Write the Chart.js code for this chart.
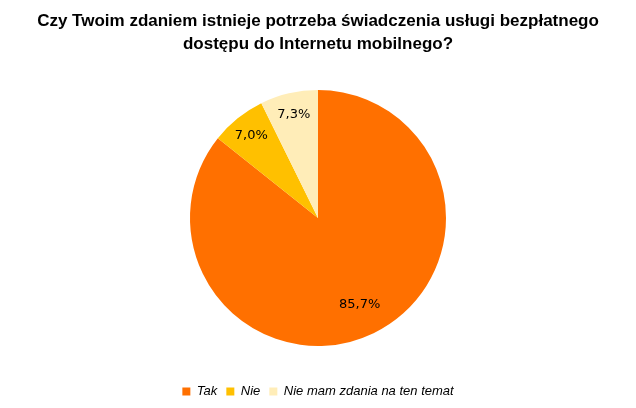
<!DOCTYPE html>
<html><head><meta charset="utf-8">
<script src="https://cdn.jsdelivr.net/npm/chart.js@4/dist/chart.umd.min.js"></script>
<style>html,body{margin:0;padding:0;background:#fff}#w{width:636px;height:408px}</style>
</head><body><div id="w"><canvas id="c"></canvas></div>
<script>
const categories = ["Tak", "Nie", "Nie mam zdania na ten temat"];
const values = [85.7, 7.0, 7.3];
const colors = ["#FF7000", "#FFC000", "#FFEDB8"];
const titleLines = ["Czy Twoim zdaniem istnieje potrzeba świadczenia usługi bezpłatnego", "dostępu do Internetu mobilnego?"];

const labelPlugin = {
  id: 'lbl',
  afterDatasetsDraw(chart) {
    const ctx = chart.ctx;
    const meta = chart.getDatasetMeta(0);
    ctx.save();
    ctx.font = '13px "DejaVu Sans", sans-serif';
    ctx.fillStyle = '#000';
    ctx.textAlign = 'center';
    ctx.textBaseline = 'middle';
    meta.data.forEach((arc, i) => {
      const a = (arc.startAngle + arc.endAngle) / 2;
      const r = arc.outerRadius * (i === 0 ? 0.75 : 0.83);
      ctx.fillText(values[i].toFixed(1).replace('.', ',') + '%', arc.x + Math.cos(a) * r, arc.y + Math.sin(a) * r);
    });
    ctx.restore();
  }
};

new Chart(document.getElementById('c'), {
  type: 'pie',
  data: { labels: categories, datasets: [{ data: values, backgroundColor: colors, borderWidth: 0, radius: 128 }] },
  options: {
    responsive: true, maintainAspectRatio: false, animation: false,
    layout: { padding: { bottom: 0 } },
    plugins: {
      tooltip: { enabled: false },
      title: { display: true, text: titleLines, color: '#000',
        font: { family: '"Liberation Sans", Arial, sans-serif', size: 17, weight: 'bold', lineHeight: 1.35 },
        padding: { top: 10, bottom: 4 } },
      legend: { position: 'bottom',
        labels: { boxWidth: 8, boxHeight: 8, padding: 9, color: '#000',
          font: { family: '"Liberation Sans", Arial, sans-serif', size: 13, style: 'italic' } } }
    }
  },
  plugins: [labelPlugin]
});
</script></body></html>
